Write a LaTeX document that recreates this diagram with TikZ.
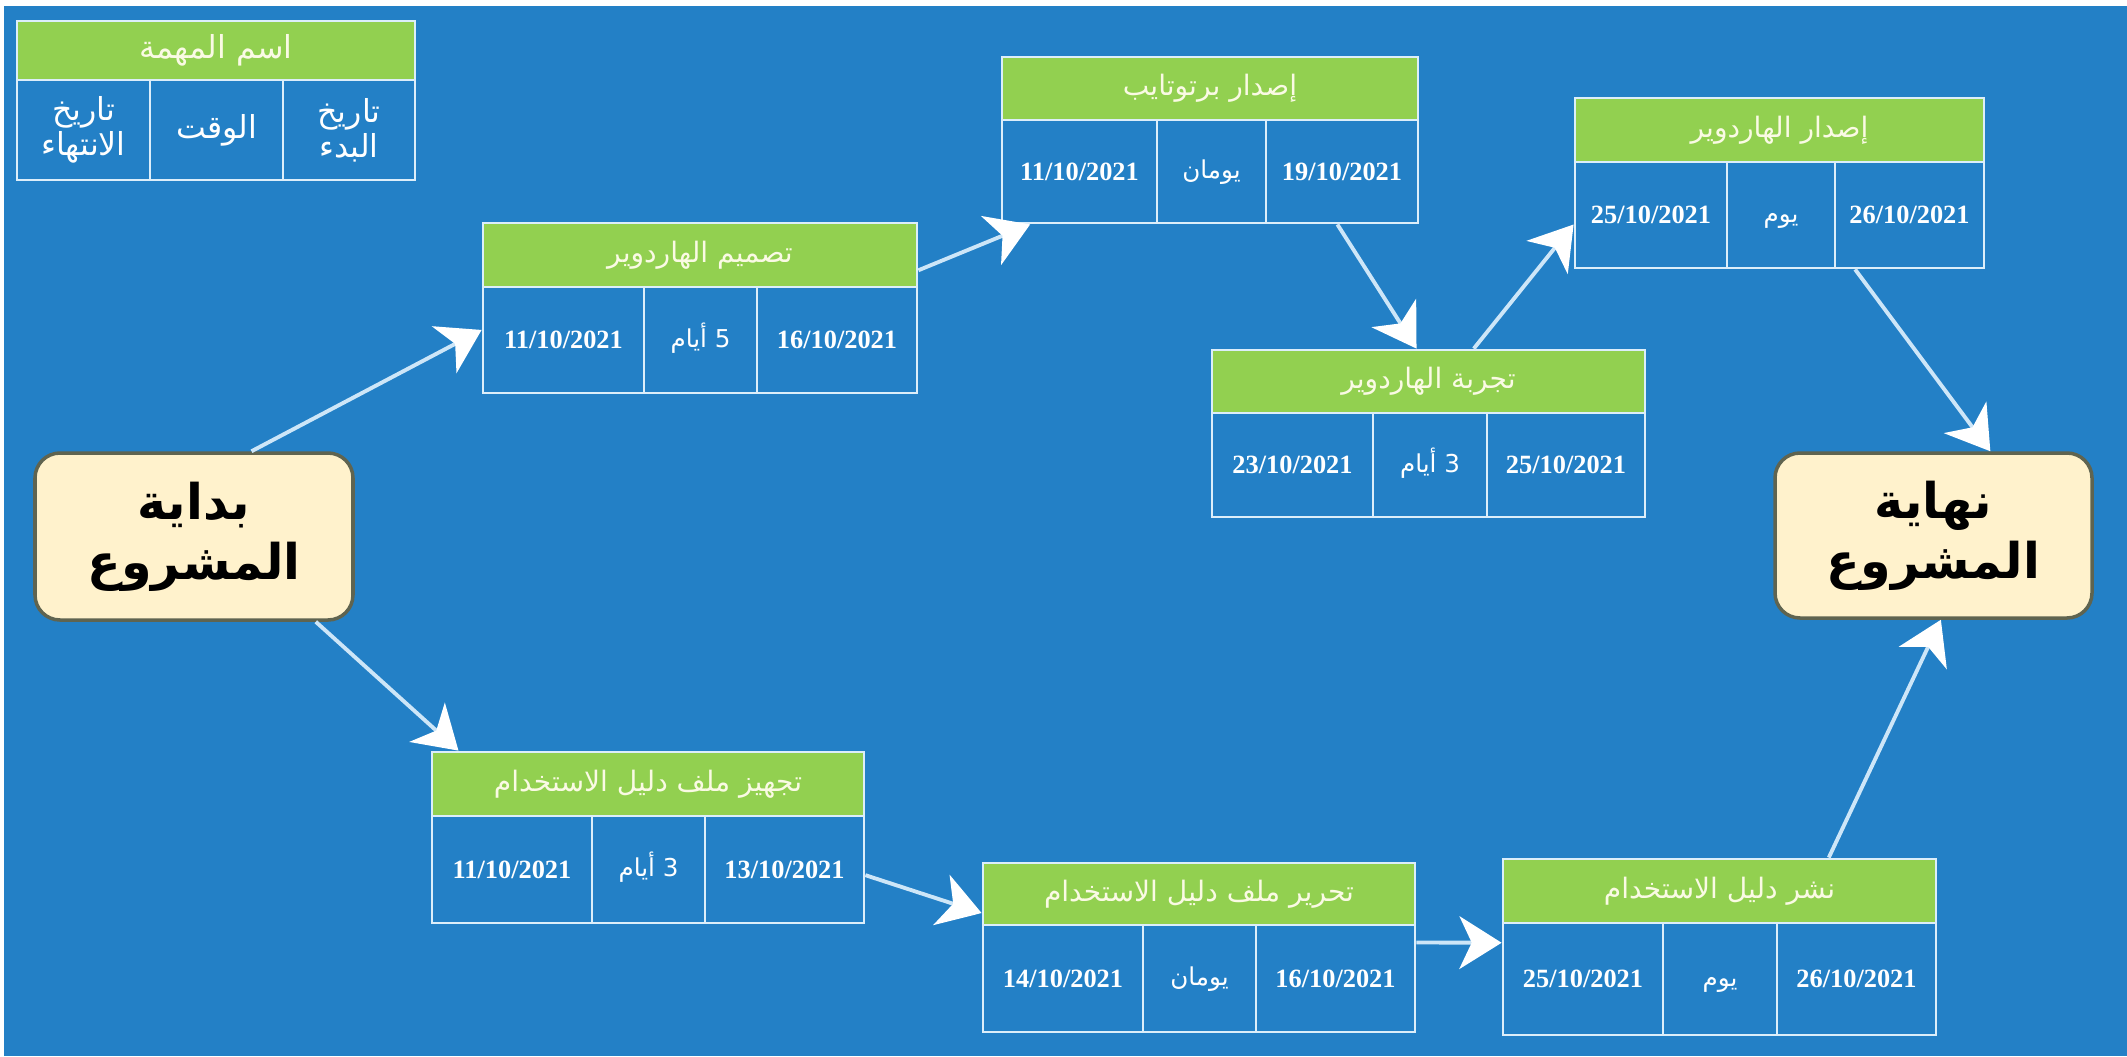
\documentclass[tikz,border=0pt]{standalone}
\usepackage{fontspec}
\setmainfont{Liberation Serif}
\newfontfamily\arabicfont[Script=Arabic]{DejaVu Sans}
\TeXXeTstate=1
\usetikzlibrary{arrows.meta}

\definecolor{chartblue}{RGB}{35,128,198}
\definecolor{headgreen}{RGB}{146,208,80}
\definecolor{gridline}{RGB}{220,238,250}
\definecolor{arrowline}{RGB}{205,230,248}
\definecolor{boxcream}{RGB}{255,242,204}
\definecolor{boxedge}{RGB}{95,100,80}
\definecolor{titletext}{RGB}{250,250,228}

\newcommand{\artext}[1]{{\arabicfont\beginR #1\endR}}

\tikzset{
  taskhead/.style={rectangle, draw=gridline, line width=0.8pt, fill=headgreen, inner sep=0pt,
    minimum height=0.64cm, text=titletext, font=\arabicfont\fontsize{8}{10}\selectfont},
  taskcell/.style={rectangle, draw=gridline, line width=0.8pt, fill=chartblue, inner sep=0pt,
    minimum height=1.06cm, text=white, font=\bfseries\fontsize{7.5}{9}\selectfont},
  durcell/.style={taskcell, text height=5.5pt, text depth=1.5pt, font=\arabicfont\fontsize{7}{9}\selectfont},
  keycell/.style={taskcell, minimum height=1.00cm, align=center, font=\arabicfont\fontsize{9}{10}\selectfont},
  endpoint/.style={rectangle, rounded corners=0.25cm, draw=boxedge, line width=1pt, fill=boxcream,
    inner sep=0pt, minimum width=3.18cm, minimum height=1.67cm, align=center,
    font=\arabicfont\bfseries\fontsize{14}{17}\selectfont},
  flow/.style={draw=arrowline, line width=1.1pt, -{Stealth[length=12pt, width=15pt, inset=3.5pt, color=white]}},
}

\begin{document}
\begin{tikzpicture}
  \useasboundingbox (0,0) rectangle (21.27,-10.56);
  \fill[white] (0,0) rectangle (21.27,-10.56);
  \fill[chartblue] (0.04,-0.06) rectangle (21.27,-10.56);

  % legend
  \node (key-h) [taskhead, minimum width=3.98cm, minimum height=0.59cm, font=\arabicfont\fontsize{9}{10}\selectfont] at (2.16,-0.505) {\artext{اسم المهمة}};
  \node (key-l) [keycell, minimum width=1.33cm] at (0.835,-1.30) {\artext{تاريخ}\\\artext{الانتهاء}};
  \node (key-m) [keycell, minimum width=1.33cm] at (2.165,-1.30) {\artext{الوقت}};
  \node (key-r) [keycell, minimum width=1.32cm] at (3.49,-1.30) {\artext{تاريخ}\\\artext{البدء}};

  % start and end
  \node (start) [endpoint] at (1.94,-5.365) {\artext{بداية}\\\artext{المشروع}};
  \node (finish) [endpoint, minimum width=3.17cm, minimum height=1.65cm] at (19.335,-5.355) {\artext{نهاية}\\\artext{المشروع}};

  % hardware design
  \node (design-h) [taskhead, minimum width=4.34cm] at (7.00,-2.55) {\artext{تصميم الهاردوير}};
  \node (design-l) [taskcell, minimum width=1.61cm] at (5.635,-3.40) {11/10/2021};
  \node (design-m) [durcell, minimum width=1.13cm] at (7.005,-3.40) {\artext{5 أيام}};
  \node (design-r) [taskcell, minimum width=1.60cm] at (8.37,-3.40) {16/10/2021};

  % prototype
  \node (proto-h) [taskhead, minimum width=4.16cm, minimum height=0.63cm] at (12.10,-0.885) {\artext{إصدار برتوتايب}};
  \node (proto-l) [taskcell, minimum width=1.55cm, minimum height=1.03cm] at (10.795,-1.715) {11/10/2021};
  \node (proto-m) [durcell, minimum width=1.09cm, minimum height=1.03cm] at (12.115,-1.715) {\artext{يومان}};
  \node (proto-r) [taskcell, minimum width=1.52cm, minimum height=1.03cm] at (13.42,-1.715) {19/10/2021};

  % hardware test
  \node (test-h) [taskhead, minimum width=4.33cm, minimum height=0.63cm] at (14.285,-3.815) {\artext{تجربة الهاردوير}};
  \node (test-l) [taskcell, minimum width=1.61cm, minimum height=1.04cm] at (12.925,-4.65) {23/10/2021};
  \node (test-m) [durcell, minimum width=1.14cm, minimum height=1.04cm] at (14.30,-4.65) {\artext{3 أيام}};
  \node (test-r) [taskcell, minimum width=1.58cm, minimum height=1.04cm] at (15.66,-4.65) {25/10/2021};

  % hardware release
  \node (release-h) [taskhead, minimum width=4.09cm] at (17.795,-1.30) {\artext{إصدار الهاردوير}};
  \node (release-l) [taskcell, minimum width=1.52cm] at (16.51,-2.15) {25/10/2021};
  \node (release-m) [durcell, minimum width=1.08cm] at (17.81,-2.15) {\artext{يوم}};
  \node (release-r) [taskcell, minimum width=1.49cm] at (19.095,-2.15) {26/10/2021};

  % manual preparation
  \node (prepare-h) [taskhead, minimum width=4.32cm] at (6.48,-7.84) {\artext{تجهيز ملف دليل الاستخدام}};
  \node (prepare-l) [taskcell, minimum width=1.60cm, minimum height=1.07cm] at (5.12,-8.695) {11/10/2021};
  \node (prepare-m) [durcell, minimum width=1.13cm, minimum height=1.07cm] at (6.485,-8.695) {\artext{3 أيام}};
  \node (prepare-r) [taskcell, minimum width=1.59cm, minimum height=1.07cm] at (7.845,-8.695) {13/10/2021};

  % manual editing
  \node (edit-h) [taskhead, minimum width=4.32cm, minimum height=0.62cm] at (11.99,-8.94) {\artext{تحرير ملف دليل الاستخدام}};
  \node (edit-l) [taskcell, minimum width=1.60cm, minimum height=1.07cm] at (10.63,-9.785) {14/10/2021};
  \node (edit-m) [durcell, minimum width=1.13cm, minimum height=1.07cm] at (11.995,-9.785) {\artext{يومان}};
  \node (edit-r) [taskcell, minimum width=1.59cm, minimum height=1.07cm] at (13.355,-9.785) {16/10/2021};

  % manual publishing
  \node (publish-h) [taskhead, minimum width=4.33cm] at (17.195,-8.91) {\artext{نشر دليل الاستخدام}};
  \node (publish-l) [taskcell, minimum width=1.60cm, minimum height=1.12cm] at (15.83,-9.79) {25/10/2021};
  \node (publish-m) [durcell, minimum width=1.14cm, minimum height=1.12cm] at (17.20,-9.79) {\artext{يوم}};
  \node (publish-r) [taskcell, minimum width=1.59cm, minimum height=1.12cm] at (18.565,-9.79) {26/10/2021};

  % connectors
  \draw[flow] (start.56) -- (design-l.173);
  \draw[flow] (design-h.-4.5) -- (proto-l.-133);
  \draw[flow] (proto-r.-95) -- (test-h.110);
  \draw[flow] (test-h.36) -- (release-l.187);
  \draw[flow] (release-r.-135) -- (finish.56.5);
  \draw[flow] (start.-35) -- (prepare-h.170);
  \draw[flow] (prepare-r.-4) -- (edit-h.185);
  \draw[flow] (edit-r.24) -- (publish-l.156);
  \draw[flow] (publish-h.17) -- (finish.-85);
\end{tikzpicture}
\end{document}
